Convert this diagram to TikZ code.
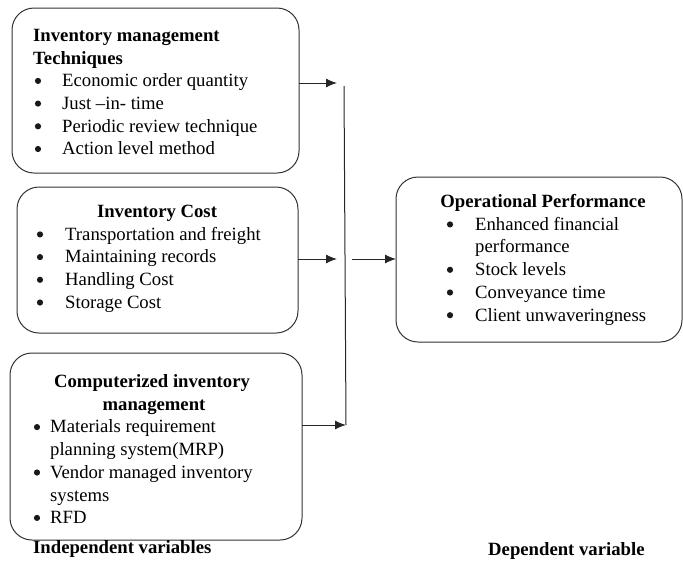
\documentclass[tikz,border=0pt]{standalone}
\usepackage{fontspec}
\setmainfont{Liberation Serif}
\usetikzlibrary{arrows.meta}
\begin{document}
\begin{tikzpicture}[x=1pt,y=-1pt,
  box/.style={draw=black!80,line width=1pt,rounded corners=22pt,inner sep=0pt,outer sep=0pt,anchor=north west},
  txt/.style={inner sep=0pt,anchor=base west,font=\fontsize{18.7}{22.7}\selectfont},
  head/.style={inner sep=0pt,anchor=base,font=\fontsize{18.7}{22.7}\selectfont\bfseries},
  headl/.style={inner sep=0pt,anchor=base west,font=\fontsize{18.7}{22.7}\selectfont\bfseries},
  bul/.style={circle,fill=black!90,inner sep=0pt,minimum size=6.2pt,yshift=5.8pt},
  arr/.style={line width=1pt,draw=black!85,-{Latex[length=11pt,width=9pt]}},
  ln/.style={line width=1pt,draw=black!85}]
\useasboundingbox (0,0) rectangle (683,560);
% boxes
\node[box,minimum width=287pt,minimum height=165pt] (b1) at (12,8) {};
\node[box,minimum width=281pt,minimum height=146pt] (b2) at (17,187) {};
\node[box,minimum width=292pt,minimum height=187pt] (b3) at (10,353) {};
\node[box,minimum width=286pt,minimum height=165pt] (b4) at (396,177) {};
% box 1 text
\node[headl] (h1a) at (33,41.3) {Inventory management};
\node[headl] (h1b) at (33,64) {Techniques};
\foreach \y/\t [count=\i] in {86.7/Economic order quantity,109.4/Just –in- time,132.1/Periodic review technique,154.8/Action level method}{
  \node[bul] (p1\i) at (38,\y) {};
  \node[txt] (t1\i) at (62,\y) {\t};
}
% box 2 text
\node[head] (h2) at (157,217.5) {Inventory Cost};
\foreach \y/\t [count=\i] in {240.2/Transportation and freight,262.9/Maintaining records,285.6/Handling Cost,308.3/Storage Cost}{
  \node[bul] (p2\i) at (40,\y) {};
  \node[txt] (t2\i) at (65,\y) {\t};
}
% box 3 text
\node[head] (h3a) at (152,387.5) {Computerized inventory};
\node[head] (h3b) at (154,410.2) {management};
\node[bul] (p31) at (37,432.9) {};
\node[txt] (t31) at (50,432.9) {Materials requirement};
\node[txt] (t31b) at (50,455.6) {planning system(MRP)};
\node[bul] (p32) at (37,478.3) {};
\node[txt] (t32) at (50,478.3) {Vendor managed inventory};
\node[txt] (t32b) at (50,501) {systems};
\node[bul] (p33) at (37,523.7) {};
\node[txt] (t33) at (50,523.7) {RFD};
% box 4 text
\node[head] (h4) at (543,207.5) {Operational Performance};
\node[bul] (p41) at (450,230.2) {};
\node[txt] (t41) at (475,230.2) {Enhanced financial};
\node[txt] (t41b) at (475,252.9) {performance};
\node[bul] (p42) at (450,275.6) {};
\node[txt] (t42) at (475,275.6) {Stock levels};
\node[bul] (p43) at (450,298.3) {};
\node[txt] (t43) at (475,298.3) {Conveyance time};
\node[bul] (p44) at (450,321) {};
\node[txt] (t44) at (475,321) {Client unwaveringness};
% labels
\node[headl] (lind) at (33,553) {Independent variables};
\node[headl] (ldep) at (488,555) {Dependent variable};
% connectors
\coordinate (e1) at (337,83);
\coordinate (e2) at (337,259);
\coordinate (e3) at (346,425);
\coordinate (vtop) at (344,86);
\coordinate (s4) at (352,259);
\draw[arr] (b1.east |- e1) -- (e1);
\draw[arr] (b2.east |- e2) -- (e2);
\draw[ln] (vtop) -- (e3);
\draw[arr] (b3.east |- e3) -- (e3);
\draw[arr] (s4) -- (b4.west |- s4);
\end{tikzpicture}
\end{document}
